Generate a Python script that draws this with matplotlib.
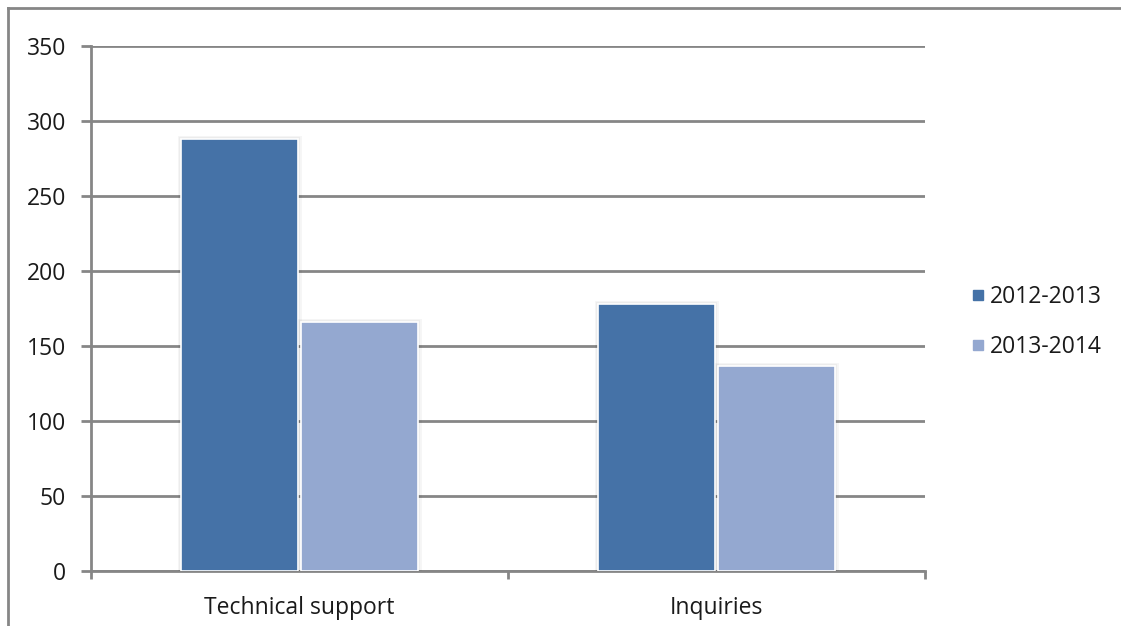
import matplotlib
matplotlib.use("Agg")
import matplotlib.pyplot as plt
import matplotlib.patheffects as pe
from matplotlib.lines import Line2D
import numpy as np

categories = ["Technical support", "Inquiries"]
series_names = ["2012-2013", "2013-2014"]
values_2012 = [288, 178]
values_2013 = [166, 137]
y_ticks = [0, 50, 100, 150, 200, 250, 300, 350]

colors = ["#4572A7", "#94A8D0"]
grid_gray = "#868686"
text_color = "#1a1a1a"
fs = 16.5

plt.rcParams["font.family"] = ["Open Sans", "DejaVu Sans"]

W, H = 1121, 626
fig = plt.figure(figsize=(W / 100, H / 100), dpi=100)
ax = fig.add_axes([91 / W, (H - 571) / H, (925 - 91) / W, (571 - 46) / H])

x = np.arange(len(categories))
width = 0.282
offset = 0.1435
shadow = [pe.Stroke(linewidth=5, foreground="#000000", alpha=0.035),
          pe.Stroke(linewidth=3, foreground="#000000", alpha=0.04),
          pe.Normal()]
for i, (vals, name) in enumerate(zip([values_2012, values_2013], series_names)):
    bars = ax.bar(x + (i * 2 - 1) * offset, vals, width=width, color=colors[i],
                  edgecolor="white", linewidth=1.2, zorder=3 + i, label=name)
    for b in bars:
        b.set_path_effects(shadow)

ax.set_xlim(-0.5, 1.5)
ax.set_ylim(0, 350)
ax.set_yticks(y_ticks)
ax.set_yticklabels([str(v) for v in y_ticks], fontsize=fs, color=text_color)
ax.yaxis.grid(True, color=grid_gray, linewidth=2, zorder=0)
ax.set_axisbelow(True)

ax.set_xticks(x)
ax.set_xticklabels(categories, fontsize=fs, color=text_color)
ax.set_xticks([-0.5, 0.5, 1.5], minor=True)
ax.tick_params(axis="x", which="major", length=0, pad=18)
ax.tick_params(axis="x", which="minor", length=6, width=2, color=grid_gray)
ax.tick_params(axis="y", length=7, width=2, color=grid_gray, pad=11)

for side in ["top", "right"]:
    ax.spines[side].set_visible(False)
for side in ["left", "bottom"]:
    ax.spines[side].set_color(grid_gray)
    ax.spines[side].set_linewidth(2)

# legend
handles = [Line2D([], [], marker="s", linestyle="none", markersize=7.5,
                  markerfacecolor=c, markeredgecolor=c) for c in colors]
fig.legend(handles, series_names, loc="center left",
           bbox_to_anchor=(950 / W, 1 - 322 / H), frameon=False,
           fontsize=fs, handlelength=0.6, handletextpad=0.25,
           labelspacing=1.1, labelcolor=text_color)

# outer chart-area border
fig.add_artist(Line2D([8 / W, 8 / W], [0, 1 - 8 / H], color=grid_gray,
                      linewidth=2, transform=fig.transFigure))
fig.add_artist(Line2D([8 / W, 1], [1 - 8 / H, 1 - 8 / H], color=grid_gray,
                      linewidth=2, transform=fig.transFigure))

fig.savefig("out.png", dpi=100)
